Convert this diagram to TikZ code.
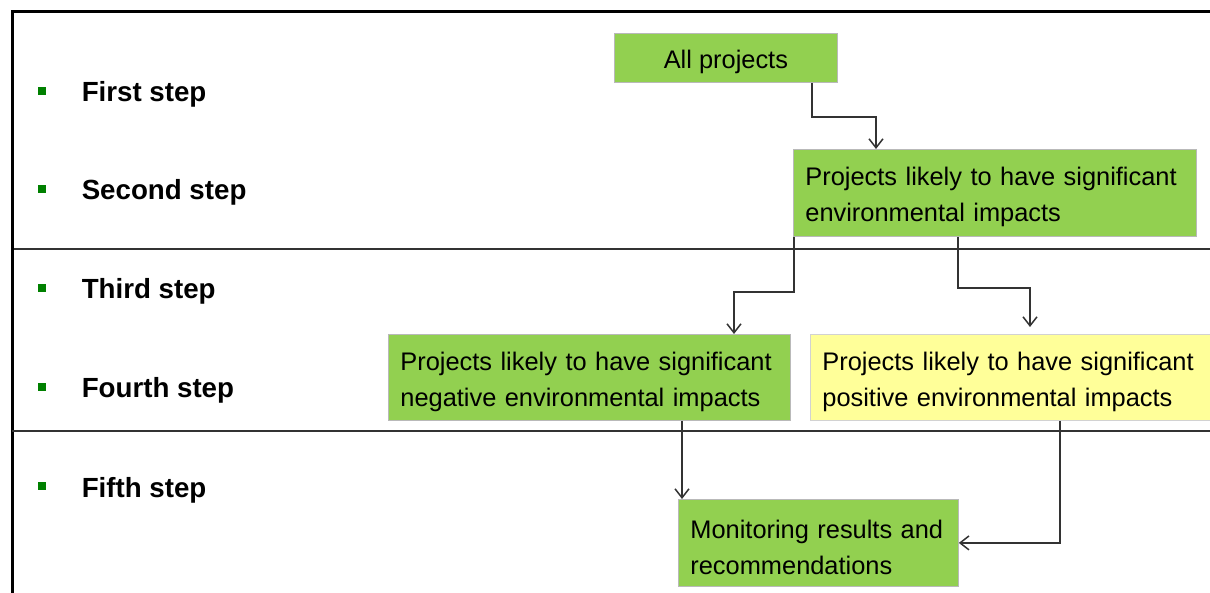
\documentclass[tikz,border=0pt]{standalone}
\usepackage{fontspec}
\setmainfont{Liberation Sans}
\usetikzlibrary{arrows.meta}

\definecolor{leafgreen}{HTML}{92D050}
\definecolor{paleyellow}{HTML}{FFFF99}
\definecolor{bulletgreen}{HTML}{008000}
\definecolor{linegray}{HTML}{333333}

\begin{document}
\begin{tikzpicture}[
    x = 1pt, y = -1pt, % one unit per pixel, y going down
    > = {Straight Barb[length=9pt,width=14pt]}, % arrow head style
    line width = 1.5pt % line style
    ]

    \tikzset{
    stage/.style = {
        draw = gray!55,
        line width = 0.8pt,
        fill = leafgreen,
        anchor = north west,
        align = left,
        inner xsep = 12pt,
        inner ysep = 0pt,
        text height = 27pt, % pushes the text a little lower
        font = \fontsize{25.4}{36}\selectfont
    },
    bullet/.style = {fill = bulletgreen, minimum size = 8pt, inner sep = 0pt},
    steplabel/.style = {anchor = base west, inner sep = 0pt,
        font = \fontsize{27.7}{33}\selectfont\bfseries},
    link/.style = {->, draw = linegray}
    }
    \useasboundingbox (0,0) rectangle (1210,593);

    % frame and separators
    \draw[line width=3pt] (12,593) -- (12,12) -- (1210,12);
    \draw[draw=linegray, line width=1.6pt] (14,249) -- (1210,249);
    \draw[draw=linegray, line width=2.2pt] (12,431) -- (1210,431);

    % steps on the left
    \node[bullet] (b1) at (42,91) {};
    \node[bullet] (b2) at (42,189) {};
    \node[bullet] (b3) at (42,288) {};
    \node[bullet] (b4) at (42,387) {};
    \node[bullet] (b5) at (42,486) {};
    \node[steplabel] (s1) at (81,102) {First step};
    \node[steplabel] (s2) at (81,200) {Second step};
    \node[steplabel] (s3) at (81,299) {Third step};
    \node[steplabel] (s4) at (81,398) {Fourth step};
    \node[steplabel] (s5) at (81,497) {Fifth step};

    % boxes
    \node[stage, align=center, minimum width=223pt, minimum height=49pt] (all) at (614,33) {All projects};
    \node[stage, text width=379pt, minimum height=87pt] (sig) at (793,149)
        {Projects likely to have significant\\environmental impacts};
    \node[stage, text width=378pt, minimum height=86pt] (neg) at (388,334)
        {Projects likely to have significant\\negative environmental impacts};
    \node[stage, fill=paleyellow, draw=gray!35, text width=378pt, minimum height=86pt] (pos) at (810,334)
        {Projects likely to have significant\\positive environmental impacts};
    \node[stage, text width=256pt, minimum height=87pt] (mon) at (678,499)
        {Monitoring results and\\recommendations};

    % connectors
    \draw[link] ([xshift=198pt]all.south west) |- (876,117) -- ([xshift=83pt]sig.north west);
    \draw[link] ([xshift=1pt]sig.south west) |- (734,292) -- ([xshift=346pt]neg.north west);
    \draw[link, shorten >=7pt] ([xshift=165pt]sig.south west) |- (1030,288) -- ([xshift=220pt]pos.north west);
    \draw[link] ([xshift=294pt]neg.south west) -- ([xshift=4pt]mon.north west);
    \draw[link] ([xshift=250pt]pos.south west) |- (mon.east);
\end{tikzpicture}
\end{document}
